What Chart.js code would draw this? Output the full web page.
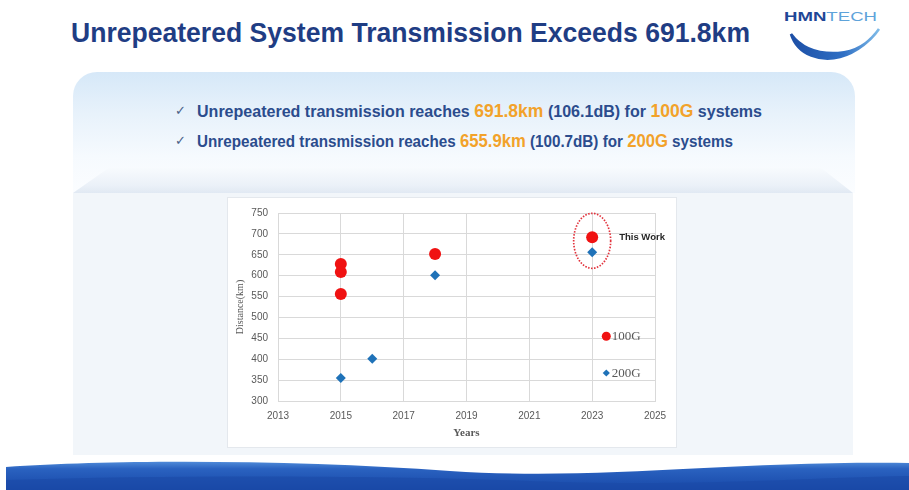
<!DOCTYPE html>
<html><head><meta charset="utf-8">
<script src="https://cdn.jsdelivr.net/npm/chart.js@4.4.0/dist/chart.umd.min.js"></script>
<style>
html,body{margin:0;padding:0;background:#fff;}
#page{position:relative;width:909px;height:490px;overflow:hidden;background:#fff;font-family:'Liberation Sans',Arial,sans-serif;}
.abs{position:absolute;}
.fit{white-space:nowrap;transform-origin:0 50%;}
.nar{font-family:'Liberation Sans Narrow','Arial Narrow','Liberation Sans',Arial,sans-serif;}
#title{left:71px;top:17px;font-size:28px;line-height:32px;font-weight:bold;color:#1f3d84;}
#logo{left:784px;top:10px;font-size:12px;line-height:15px;white-space:nowrap;}
#logo .a{color:#1f4797;font-weight:bold;}
#logo .b{color:#5ea3da;}
#upper{left:73px;top:72px;width:782px;height:121px;border-radius:24px 24px 0 0;
 background:linear-gradient(to bottom,#d6e8f8 0%,#e8f2fb 35%,#f6fafe 70%,#fbfdff 100%);}
#bevel{left:73px;top:167px;width:782px;height:26px;
 background:linear-gradient(to bottom,#f8fbfe 0%,#ebf1f8 70%,#e1e9f3 100%);
 clip-path:polygon(37px 0,747px 0,780px 26px,0 26px);}
#lower{left:73px;top:193px;width:780px;height:262px;background:#f2f6fa;}
#box{left:227px;top:197px;width:450px;height:251px;background:#fff;border:1px solid #e4e8ed;box-sizing:border-box;}
#cv{position:absolute;left:227px;top:197px;}
.bl{left:197px;font-size:16px;line-height:18px;font-weight:bold;color:#2b4c8d;}
.hl{color:#f2a22a;font-size:17.5px;}
.ck{font-size:13px;line-height:18px;color:#4b5f86;left:175px;}
</style></head>
<body>
<div id="page">
  <div class="abs" id="upper"></div>
  <div class="abs" id="bevel"></div>
  <div class="abs" id="lower"></div>
  <div class="abs" id="box"></div>

  <div class="abs fit nar" id="title" data-w="679">Unrepeatered System Transmission Exceeds 691.8km</div>

  <div class="abs fit" id="logo" data-w="93"><span class="a">HMN</span><span class="b">TECH</span></div>
  <svg class="abs" style="left:780px;top:25px" width="110" height="40">
    <defs><linearGradient id="sw" x1="0" y1="0" x2="1" y2="0">
      <stop offset="0" stop-color="#1d4fa6"/><stop offset="0.6" stop-color="#2f6fc4"/><stop offset="1" stop-color="#7fbbe8"/></linearGradient></defs>
    <path d="M11,9 C18,31 42,37 60,32 C78,27 92,14 99,4 C90,17 76,27 58,28 C40,29 22,24 11,9 Z" fill="url(#sw)" stroke="url(#sw)" stroke-width="2.6"/>
  </svg>

  <div class="abs ck" style="top:102px">✓</div>
  <div class="abs bl fit nar" style="top:102px" data-w="565">Unrepeatered transmission reaches <span class="hl">691.8km</span> (106.1dB) for <span class="hl">100G</span> systems</div>
  <div class="abs ck" style="top:132px">✓</div>
  <div class="abs bl fit nar" style="top:132px" data-w="536">Unrepeatered transmission reaches <span class="hl">655.9km</span> (100.7dB) for <span class="hl">200G</span> systems</div>

  <canvas id="cv" width="450" height="251" style="width:450px;height:251px"></canvas>

  <svg class="abs" style="left:0;top:440px" width="909" height="50">
    <defs>
      <linearGradient id="wg" x1="0" y1="0" x2="0" y2="1">
        <stop offset="0" stop-color="#4f8ad8"/><stop offset="0.25" stop-color="#2a62c0"/><stop offset="1" stop-color="#1848a8"/></linearGradient>
    </defs>
    <path d="M6,27 C120,19 300,20 450,31 C600,41 720,21 909,23 L909,50 L6,50 Z" fill="url(#wg)"/>
    <path d="M6,40 C200,34 420,36 560,42 C700,46 800,38 909,36 L909,50 L6,50 Z" fill="#1a4aa6" opacity="0.6"/>
  </svg>
</div>
<script>
// fit decorative text lines to their measured widths
document.querySelectorAll('.fit').forEach(el=>{
  const w = el.getBoundingClientRect().width;
  const t = +el.dataset.w;
  el.style.transform = 'scaleX(' + (t / w) + ')';
});

// ---- data ----
const xTickLabels = [2013, 2015, 2017, 2019, 2021, 2023, 2025];
const yTickLabels = [300, 350, 400, 450, 500, 550, 600, 650, 700, 750];
const years100G = [2015, 2015, 2015, 2018, 2023];
const dist100G  = [628, 609, 556, 652, 691.8];
const years200G = [2015, 2016, 2018, 2023];
const dist200G  = [355, 401, 601, 655.9];
const seriesNames = ['100G', '200G'];
const highlightLabel = 'This Work';

const RED = '#f01212';
const BLUE = '#1f72b8';

const toPts = (xs, ys) => xs.map((x, i) => ({x: x, y: ys[i]}));

const annotPlugin = {
  id: 'annot',
  afterDatasetsDraw(chart) {
    const ctx = chart.ctx;
    const {x, y} = chart.scales;
    const d0 = chart.getDatasetMeta(0).data;
    const d1 = chart.getDatasetMeta(1).data;
    const p1 = d0[d0.length - 1], p2 = d1[d1.length - 1];
    ctx.save();
    // dotted ellipse around "This Work"
    ctx.strokeStyle = '#e2323c';
    ctx.lineWidth = 1.7;
    ctx.setLineDash([1.5, 1.5]);
    ctx.beginPath();
    ctx.ellipse(p1.x, (p1.y + p2.y) / 2 - 4, 18.5, 27.5, 0, 0, Math.PI * 2);
    ctx.stroke();
    ctx.setLineDash([]);
    ctx.fillStyle = '#262626';
    ctx.font = 'bold 9.5px "Liberation Sans", Arial, sans-serif';
    ctx.textBaseline = 'middle';
    ctx.textAlign = 'left';
    ctx.fillText(highlightLabel, p1.x + 27, p1.y);

    // in-plot legend
    const lx = x.getPixelForValue(2023.45);
    const ly1 = y.getPixelForValue(455);
    const ly2 = y.getPixelForValue(367);
    ctx.fillStyle = RED;
    ctx.beginPath(); ctx.arc(lx, ly1, 4.5, 0, Math.PI * 2); ctx.fill();
    ctx.fillStyle = BLUE;
    ctx.beginPath();
    ctx.moveTo(lx, ly2 - 3.6); ctx.lineTo(lx + 3.6, ly2); ctx.lineTo(lx, ly2 + 3.6); ctx.lineTo(lx - 3.6, ly2);
    ctx.closePath(); ctx.fill();
    ctx.fillStyle = '#595959';
    ctx.font = '13px "Liberation Serif", "Times New Roman", serif';
    ctx.fillText(seriesNames[0], lx + 5.5, ly1 + 0.5);
    ctx.fillText(seriesNames[1], lx + 5.5, ly2 + 0.5);
    ctx.restore();
  }
};

new Chart(document.getElementById('cv'), {
  type: 'scatter',
  data: {
    datasets: [
      {label: seriesNames[0], data: toPts(years100G, dist100G), pointStyle: 'circle',
       pointRadius: 6, backgroundColor: RED, borderColor: RED, borderWidth: 0},
      {label: seriesNames[1], data: toPts(years200G, dist200G), pointStyle: 'rectRot',
       pointRadius: 5, backgroundColor: BLUE, borderColor: BLUE, borderWidth: 0}
    ]
  },
  plugins: [annotPlugin],
  options: {
    responsive: false,
    animation: false,
    layout: {padding: {top: 13, right: 22, left: 0, bottom: 0}},
    plugins: {legend: {display: false}, tooltip: {enabled: false}},
    scales: {
      x: {
        type: 'linear', min: xTickLabels[0], max: xTickLabels[xTickLabels.length - 1],
        afterBuildTicks: s => { s.ticks = xTickLabels.map(v => ({value: v})); },
        afterFit: s => { s.height = 47; },
        grid: {color: '#d9d9d9', drawTicks: false, lineWidth: 1},
        border: {color: '#d9d9d9'},
        ticks: {padding: 9, color: '#595959', font: {family: '"Liberation Sans", Arial, sans-serif', size: 10},
                callback: v => String(v), maxRotation: 0, autoSkip: false},
        title: {display: true, text: 'Years', color: '#595959', padding: {top: 0, bottom: 8},
                font: {family: '"Liberation Serif", "Times New Roman", serif', size: 11, weight: 'bold'}}
      },
      y: {
        type: 'linear', min: yTickLabels[0], max: yTickLabels[yTickLabels.length - 1],
        afterBuildTicks: s => { s.ticks = yTickLabels.map(v => ({value: v})); },
        afterFit: s => { s.width = 51; },
        grid: {color: '#d9d9d9', drawTicks: false, lineWidth: 1},
        border: {color: '#d9d9d9'},
        ticks: {padding: 10, color: '#595959', font: {family: '"Liberation Sans", Arial, sans-serif', size: 10},
                callback: v => String(v), autoSkip: false},
        title: {display: true, text: 'Distance(km)', color: '#595959', padding: {top: 7, bottom: 0},
                font: {family: '"Liberation Serif", "Times New Roman", serif', size: 10}}
      }
    }
  }
});
</script>
</body></html>
